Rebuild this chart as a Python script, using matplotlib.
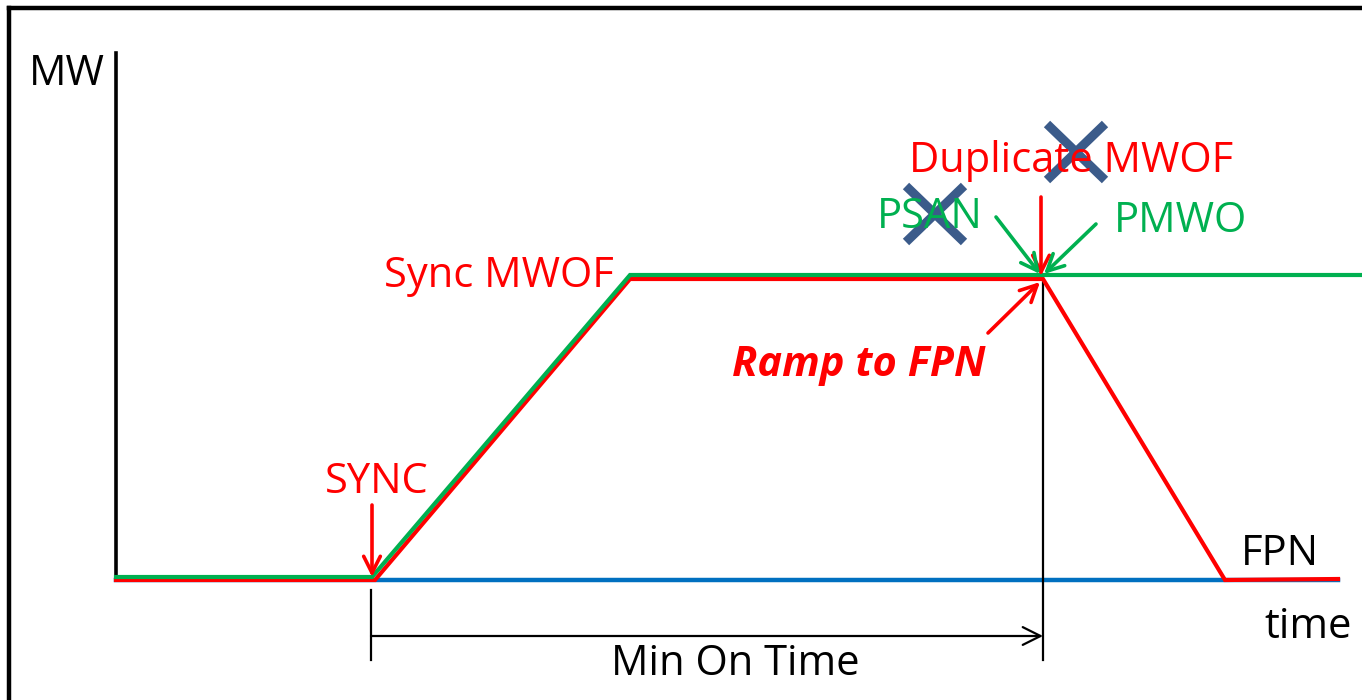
import numpy as np
import matplotlib
matplotlib.use('Agg')
import matplotlib.pyplot as plt

plt.rcParams['font.family'] = ['Open Sans', 'DejaVu Sans']

# time / MW data (arbitrary units)
time_red = [0, 2.59, 5.14, 9.27, 11.09, 12.22]
mw_red = [0, 0, 3.01, 3.01, 0, 0.01]
time_green = [0, 2.56, 5.14, 12.46]
mw_green = [0.03, 0.03, 3.05, 3.05]
time_base = [0, 12.22]
mw_base = [0, 0]

t_sync = 2.56
t_dup = 9.27
mw_top = 3.01

RED = '#FF0000'
GREEN = '#00B050'
BLUE = '#0070C0'
CROSS = '#3B5B8A'
FS = 30

fig = plt.figure(figsize=(13.62, 7.0), dpi=100)
ax = fig.add_axes([0, 0, 1, 1])
ax.set_xlim(-1.16, 12.46)
ax.set_ylim(-1.20, 5.80)
ax.axis('off')

# outer frame (only left and top visible)
ax.plot([-1.065, -1.065], [-1.2, 5.72], color='black', lw=3.2, solid_capstyle='projecting')
ax.plot([-1.065, 12.46], [5.72, 5.72], color='black', lw=3.2, solid_capstyle='projecting')

# axes
ax.plot([0, 0], [0, 5.27], color='black', lw=2.6)
ax.plot(time_base, mw_base, color=BLUE, lw=3.2)

# min on time markers
ax.plot([t_dup, t_dup], [mw_top, -0.80], color='black', lw=1.6)
ax.plot([t_sync - 0.01, t_sync - 0.01], [-0.10, -0.80], color='black', lw=1.6)
ax.annotate('', xy=(t_dup, -0.56), xytext=(t_sync - 0.01, -0.56),
            arrowprops=dict(arrowstyle='->', color='black', lw=1.6, mutation_scale=32,
                            shrinkA=0, shrinkB=0))

# series
ax.plot(time_red, mw_red, color=RED, lw=3.0, solid_joinstyle='miter')
ax.plot(time_green, mw_green, color=GREEN, lw=3.0, solid_joinstyle='miter')

# annotation arrows
def arrow(x0, y0, x1, y1, color):
    ax.annotate('', xy=(x1, y1), xytext=(x0, y0),
                arrowprops=dict(arrowstyle='->', color=color, lw=2.6, mutation_scale=30,
                                shrinkA=0, shrinkB=0))

arrow(t_sync, 0.75, t_sync, 0.03, RED)
arrow(9.25, 3.83, 9.25, 3.04, RED)
arrow(8.80, 3.63, 9.24, 3.06, GREEN)
arrow(9.80, 3.56, 9.28, 3.06, GREEN)
arrow(8.72, 2.47, 9.24, 2.98, RED)

# labels
dy = -0.04
ax.text(-0.49, 5.10 + dy, 'MW', color='black', fontsize=FS, ha='center', va='center')
ax.text(2.61, 1.02 + dy, 'SYNC', color=RED, fontsize=FS, ha='center', va='center')
ax.text(3.83, 3.08 + dy, 'Sync MWOF', color=RED, fontsize=FS, ha='center', va='center')
ax.text(9.55, 4.23 + dy, 'Duplicate MWOF', color=RED, fontsize=FS, ha='center', va='center')
ax.text(8.14, 3.67 + dy, 'PSAN', color=GREEN, fontsize=FS, ha='center', va='center')
ax.text(10.64, 3.63 + dy, 'PMWO', color=GREEN, fontsize=FS, ha='center', va='center')
ax.text(7.43, 2.18 + dy, 'Ramp to FPN', color=RED, fontsize=FS, ha='center', va='center',
        fontweight='bold', fontstyle='italic')
ax.text(11.64, 0.30 + dy, 'FPN', color='black', fontsize=FS, ha='center', va='center')
ax.text(11.92, -0.43 + dy, 'time', color='black', fontsize=FS, ha='center', va='center')
ax.text(6.19, -0.80 + dy, 'Min On Time', color='black', fontsize=FS, ha='center', va='center')

# crossed-out marks
for cx, cy in [(9.60, 4.28), (8.19, 3.66)]:
    ax.plot([cx - 0.29, cx + 0.29], [cy + 0.28, cy - 0.28], color=CROSS, lw=6.5, solid_capstyle='butt')
    ax.plot([cx - 0.29, cx + 0.29], [cy - 0.28, cy + 0.28], color=CROSS, lw=6.5, solid_capstyle='butt')

fig.savefig('out.png', dpi=100)
